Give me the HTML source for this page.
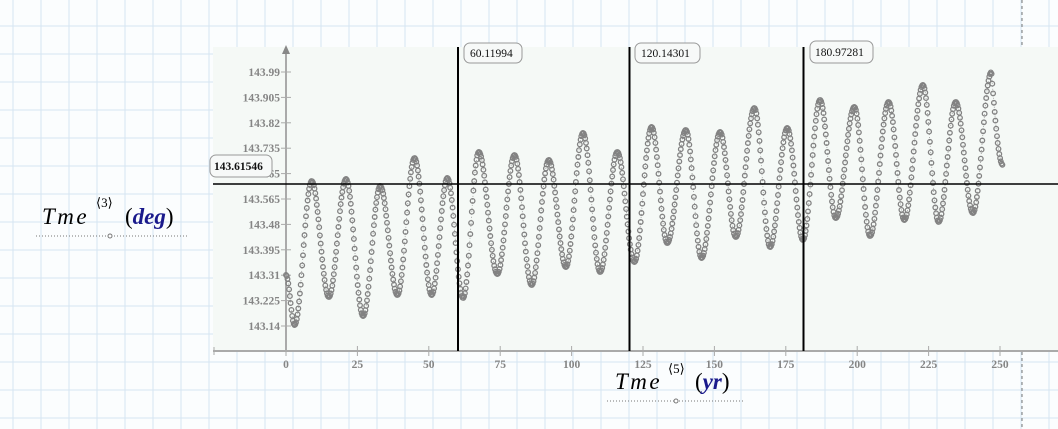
<!DOCTYPE html>
<html><head><meta charset="utf-8"><style>
html,body{margin:0;padding:0;background:#fff;}
svg{display:block;font-family:"Liberation Serif",serif;}
</style></head><body>
<svg id="s" width="1058" height="429" viewBox="0 0 1058 429" xmlns="http://www.w3.org/2000/svg">
<rect width="1058" height="429" fill="#fbfdfe"/>
<g id="grid" stroke="#d6e5f2" stroke-width="1"></g>
<rect x="213" y="47" width="845" height="305" fill="#f5f9f6"/>
<line x1="1022" y1="0" x2="1022" y2="47" stroke="#777" stroke-dasharray="3,3"/>
<line x1="1022" y1="352" x2="1022" y2="429" stroke="#777" stroke-dasharray="3,3"/>
<line x1="286" y1="52" x2="286" y2="351" stroke="#aaa" stroke-width="2"/>
<polygon points="282,54 290,54 286,45" fill="#888"/>
<line x1="213" y1="351" x2="1058" y2="351" stroke="#aaa" stroke-width="2"/>
<line x1="214" y1="347" x2="214" y2="355" stroke="#aaa"/>
<g id="ticks" fill="#858585" font-size="11.5" font-weight="bold"></g>
<g id="pts"></g>
<line x1="213" y1="184" x2="1058" y2="184" stroke="#000" stroke-width="1.5"/>
<line x1="458" y1="47" x2="458" y2="351" stroke="#000" stroke-width="2"/>
<line x1="629.5" y1="47" x2="629.5" y2="351" stroke="#000" stroke-width="2"/>
<line x1="803.5" y1="47" x2="803.5" y2="351" stroke="#000" stroke-width="2"/>
<g font-size="11.5" fill="#111">
<rect x="464" y="43" width="58" height="20" rx="6" fill="#f7f9f8" stroke="#999"/>
<text x="470" y="57">60.11994</text>
<rect x="635" y="43" width="65" height="20" rx="6" fill="#f7f9f8" stroke="#999"/>
<text x="641" y="57">120.14301</text>
<rect x="810" y="41" width="63" height="22" rx="6" fill="#f7f9f8" stroke="#999"/>
<text x="815" y="56">180.97281</text>
<rect x="210" y="155" width="62" height="22" rx="6" fill="#f7f9f8" stroke="#999"/>
<text x="214" y="170" font-weight="bold">143.61546</text>
</g>
<g font-size="23">
<text x="42" y="224" font-style="italic" letter-spacing="2.5">Tme</text>
<text x="96" y="207" font-size="13">⟨3⟩</text>
<text x="125" y="224">(<tspan fill="#1a1a8c" font-weight="bold" font-style="italic">deg</tspan>)</text>
<text x="615" y="389" font-style="italic" letter-spacing="2.5">Tme</text>
<text x="668" y="373" font-size="13">⟨5⟩</text>
<text x="695" y="389">(<tspan fill="#1a1a8c" font-weight="bold" font-style="italic">yr</tspan>)</text>
</g>
<line x1="36" y1="236" x2="187" y2="236" stroke="#777" stroke-dasharray="1,2"/>
<circle cx="110" cy="236" r="2" fill="#fff" stroke="#777"/>
<line x1="607" y1="401" x2="745" y2="401" stroke="#777" stroke-dasharray="1,2"/>
<circle cx="676" cy="401" r="2" fill="#fff" stroke="#777"/>
</svg>
<script>
var NS="http://www.w3.org/2000/svg";
function el(p,t,a,txt){var e=document.createElementNS(NS,t);for(var k in a)e.setAttribute(k,a[k]);if(txt!=null)e.textContent=txt;p.appendChild(e);return e;}
var g=document.getElementById('grid');
for(var x=13;x<1058;x+=28){el(g,'line',{x1:x,y1:0,x2:x,y2:429});}
for(var y=26;y<429;y+=28){el(g,'line',{x1:0,y1:y,x2:1058,y2:y});}
var tk=document.getElementById('ticks');
var yv=["143.99","143.905","143.82","143.735","143.65","143.565","143.48","143.395","143.31","143.225","143.14"];
for(var i=0;i<yv.length;i++){var yy=72+i*25.4;el(tk,'text',{x:280,y:yy+4,'text-anchor':'end'},yv[i]);el(tk,'line',{x1:281,y1:yy,x2:291,y2:yy,stroke:'#aaa'});}
for(var v=0;v<=250;v+=25){var xx=286+v*2.856;el(tk,'text',{x:xx,y:368,'text-anchor':'middle'},String(v));el(tk,'line',{x1:xx,y1:346,x2:xx,y2:356,stroke:'#aaa'});}
var E=[[0,275],[3,325],[9,181],[15,297],[21,179],[27,316],[33,186],[39,295],[45,158],[51,295],[56.5,178],[62,298],[67.5,152],[74,274],[80,155],[86,285],[92,160],[98,267],[104,133],[110,272],[116,152],[122,262],[128,127],[133.5,243],[140,130],[145.5,258],[152,132],[157.5,237],[164,108],[169.5,247],[175.5,128],[181,240],[187,100],[192.5,218],[199,107],[204.5,236],[211,102],[216.5,220],[223,85],[228.5,222],[234.5,102],[240.5,213],[247,72],[251,165]];
var P=document.getElementById('pts');var pts=[];
for(var t=0;t<=251;t+=0.27){
 var k=0;while(k<E.length-2&&E[k+1][0]<t)k++;
 var a=E[k],b=E[k+1];var f=(t-a[0])/(b[0]-a[0]);if(f>1)f=1;
 var yp;
 if(k==E.length-2){yp=a[1]+(b[1]-a[1])*Math.sin(f*Math.PI/2);}
 else yp=a[1]+(b[1]-a[1])*(1-Math.cos(f*Math.PI))/2;
 pts.push([286+t*2.856,yp]);
}
el(P,'polyline',{points:pts.map(function(p){return p[0].toFixed(1)+','+p[1].toFixed(1)}).join(' '),fill:'none',stroke:'#999','stroke-width':0.8,'stroke-dasharray':'1,2'});
pts.forEach(function(p){el(P,'circle',{cx:p[0].toFixed(1),cy:p[1].toFixed(1),r:2.3,fill:'none',stroke:'#828282','stroke-width':1.3});});
</script>
</body></html>
